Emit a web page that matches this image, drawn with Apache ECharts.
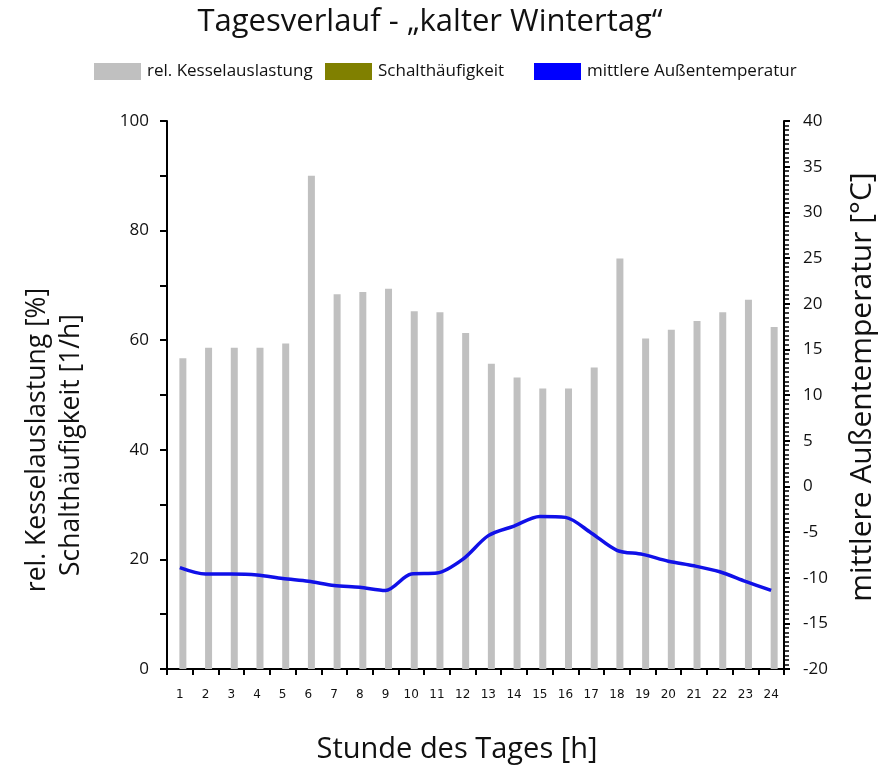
<!DOCTYPE html>
<html>
<head>
<meta charset="utf-8">
<script src="https://cdn.jsdelivr.net/npm/echarts@6/dist/echarts.min.js"></script>
<style>html,body{margin:0;padding:0;background:#fff}#c{width:882px;height:766px}</style>
</head>
<body>
<div id="c"></div>
<script>
var hours = ['1','2','3','4','5','6','7','8','9','10','11','12','13','14','15','16','17','18','19','20','21','22','23','24'];
var kesselauslastung = [56.7, 58.6, 58.6, 58.6, 59.4, 90.0, 68.4, 68.8, 69.4, 65.3, 65.1, 61.3, 55.7, 53.2, 51.2, 51.2, 55.0, 74.9, 60.3, 61.9, 63.5, 65.1, 67.4, 62.4];
var schalthaeufigkeit = [];
var temperatur = [-8.9, -9.6, -9.6, -9.7, -10.1, -10.4, -10.85, -11.05, -11.4, -9.6, -9.5, -8.0, -5.4, -4.35, -3.3, -3.4, -5.1, -7.0, -7.45, -8.2, -8.7, -9.35, -10.4, -11.4];

var titleText = 'Tagesverlauf - \u201Ekalter Wintertag\u201C';
var leftName1 = 'rel. Kesselauslastung [%]';
var leftName2 = 'Schalth\u00E4ufigkeit [1/h]';
var rightName = 'mittlere Au\u00DFentemperatur [\u00B0C]';
var xName = 'Stunde des Tages [h]';
var names = ['rel. Kesselauslastung', 'Schalth\u00E4ufigkeit', 'mittlere Au\u00DFentemperatur'];

var chart = echarts.init(document.getElementById('c'));
var nameFont = '"Open Sans", Lato, sans-serif';
function leg(i, left) {
  return {
    data: [names[i]], left: left, top: 58,
    itemWidth: 47, itemHeight: 17, itemGap: 8, icon: 'rect',
    textStyle: { fontFamily: nameFont, fontSize: 17, color: '#111', padding: [0, 0, 0, 1] }
  };
}
chart.setOption({
  animation: false,
  backgroundColor: '#fff',
  legend: [leg(0, 89), leg(1, 320), leg(2, 529)],
  grid: { left: 167, right: 98, top: 121, bottom: 97 },
  graphic: [
    { type: 'text', x: 430, y: 22, style: { text: titleText, textAlign: 'center', textVerticalAlign: 'middle', font: '31px ' + nameFont, fill: '#111' } },
    { type: 'text', rotation: Math.PI / 2, x: 37, y: 440, style: { text: leftName1, textAlign: 'center', textVerticalAlign: 'middle', font: '26.5px ' + nameFont, fill: '#111' } },
    { type: 'text', rotation: Math.PI / 2, x: 71, y: 445, style: { text: leftName2, textAlign: 'center', textVerticalAlign: 'middle', font: '26.5px ' + nameFont, fill: '#111' } },
    { type: 'text', rotation: Math.PI / 2, x: 862, y: 387, style: { text: rightName, textAlign: 'center', textVerticalAlign: 'middle', font: '30px ' + nameFont, fill: '#111' } },
    { type: 'text', x: 457, y: 750, style: { text: xName, textAlign: 'center', textVerticalAlign: 'middle', font: '29px ' + nameFont, fill: '#111' } }
  ],
  xAxis: {
    type: 'category',
    data: hours,
    axisLine: { lineStyle: { color: '#000', width: 2 } },
    axisTick: { show: true, length: 6, lineStyle: { color: '#000', width: 2 } },
    axisLabel: { margin: 20, fontFamily: '"DejaVu Sans", sans-serif', fontSize: 12, color: '#111' },
    splitLine: { show: false }
  },
  yAxis: [
    {
      type: 'value', min: 0, max: 100, interval: 10, position: 'left',
      axisLine: { show: true, lineStyle: { color: '#000', width: 2 } },
      axisTick: { show: true, length: 7, lineStyle: { color: '#000', width: 2 } },
      axisLabel: { margin: 18, fontFamily: nameFont, fontSize: 17, color: '#111',
        formatter: function (v) { return v % 20 === 0 ? String(v) : ''; } },
      splitLine: { show: false }
    },
    {
      type: 'value', min: -20, max: 40, interval: 5, position: 'right',
      axisLine: { show: true, lineStyle: { color: '#000', width: 2 } },
      axisTick: { show: true, length: 6, lineStyle: { color: '#000', width: 2 } },
      minorTick: { show: true, splitNumber: 10, length: 5, lineStyle: { color: '#000', width: 1.5 } },
      axisLabel: { margin: 19, fontFamily: nameFont, fontSize: 17, color: '#111' },
      splitLine: { show: false }
    }
  ],
  series: [
    { name: names[1], type: 'bar', yAxisIndex: 0, data: schalthaeufigkeit, barWidth: 7, barGap: '-14%', itemStyle: { color: '#808000' } },
    { name: names[0], type: 'bar', yAxisIndex: 0, data: kesselauslastung, barWidth: 7, barGap: '-14%', itemStyle: { color: '#c0c0c0' } },
    { name: names[2], type: 'line', yAxisIndex: 1, data: temperatur, smooth: 0.3, symbol: 'none',
      lineStyle: { color: '#1010e8', width: 3.5 }, itemStyle: { color: '#0000ff' } }
  ]
});
</script>
</body>
</html>
